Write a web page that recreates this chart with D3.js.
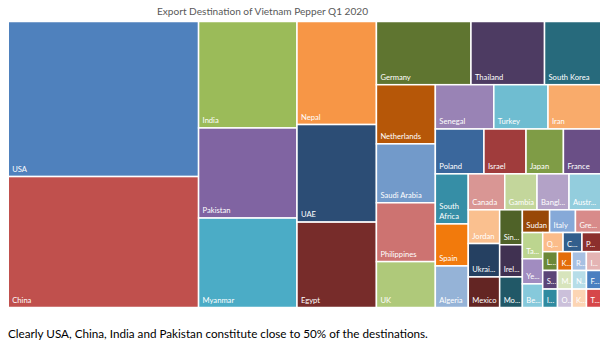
<!DOCTYPE html>
<html>
<head>
<meta charset="utf-8">
<script src="https://cdn.jsdelivr.net/npm/d3@7"></script>
<style>
  body { margin: 0; background: #fff; }
  svg { display: block; }
</style>
</head>
<body>
<svg id="chart" width="606" height="350"></svg>
<script>
// Vietnam pepper exports, Q1 2020, by destination (tonnes, approximate)
const countries = [
  "USA", "China", "India", "Pakistan", "Myanmar", "Nepal", "UAE", "Egypt",
  "Germany", "Thailand", "South Korea", "Netherlands", "Saudi Arabia", "Philippines", "UK",
  "Senegal", "Turkey", "Iran", "Poland", "Israel", "Japan", "France",
  "South Africa", "Spain", "Algeria", "Canada", "Gambia", "Bangladesh", "Australia",
  "Jordan", "Ukraine", "Mexico", "Singapore", "Ireland", "Morocco",
  "Sudan", "Italy", "Greece", "Taiwan", "Yemen", "Belgium",
  "Qatar", "Cambodia", "Portugal",
  "Lebanon", "Sri Lanka", "Iraq", "Kuwait", "Romania", "Indonesia",
  "Malaysia", "Oman", "Nigeria", "Finland", "Kenya", "Tunisia"
];
const tonnes = [
  11900, 10050, 4225, 3575, 3550, 3300, 3125, 2735,
  2410, 1875, 1433, 1405, 1400, 1398, 1090,
  1045, 968, 942, 879, 761, 676, 675,
  665, 558, 552, 529, 468, 464, 460,
  427, 423, 387, 320, 294, 280,
  250, 237, 232, 215, 206, 194,
  157, 146, 145,
  112, 111, 110, 110, 109, 109,
  109, 108, 108, 107, 107, 106
];

const chartTitle = "Export Destination of Vietnam Pepper Q1 2020";
const footnote = "Clearly USA, China, India and Pakistan constitute close to 50% of the destinations.";

// Fill colour for each destination, in the same order as the names above
const palette = [
  "#4f81bd", "#c0504d", "#9bbb59", "#8064a2", "#4bacc6", "#f79646", "#2c4d75", "#772c2a",
  "#5f7530", "#4d3b62", "#276a7c", "#b65708", "#729aca", "#cd7371", "#afc97a",
  "#9983b5", "#6fbdd1", "#f9ab6b", "#3a679c", "#a03c3c", "#7f9c46", "#6a4f86",
  "#368ea6", "#f27a0c", "#95b3d7", "#d99694", "#c3d69b", "#b3a2c7", "#93cddd",
  "#fac08f", "#254061", "#632523", "#4f6228", "#403151", "#215867",
  "#984807", "#86a9d8", "#d88b8a", "#bcd58f", "#a18cc0", "#86c9db",
  "#fbbc8a", "#325e8c", "#8c2f2d",
  "#6b8838", "#5b4577", "#2f8aa0", "#e36c09", "#a7c0e2", "#e4b4b4",
  "#d7e4bc", "#cbc0da", "#b6dde8", "#4a7fc0", "#fcd5b4", "#d6474a"
];

const W = 606, H = 350;
const box = { x: 8.25, y: 21.5, w: 592.5, h: 286 };
const labelFont = "Lato, 'Open Sans', sans-serif";
const labelSize = 7.6;

// Squarified tiling that also accepts target ratios below 1
// (favours cells a little longer along each strip than the strip is thick).
function squarifyTile(ratio) {
  return function(parent, x0, y0, x1, y1) {
    const nodes = parent.children, n = nodes.length;
    let i0 = 0, i1 = 0, value = parent.value;
    while (i0 < n) {
      const dx = x1 - x0, dy = y1 - y0;
      let sumValue, minValue, maxValue, nodeValue;
      do sumValue = nodes[i1++].value; while (!sumValue && i1 < n);
      minValue = maxValue = sumValue;
      const alpha = Math.max(dy / dx, dx / dy) / (value * ratio);
      let beta = sumValue * sumValue * alpha;
      let minRatio = Math.max(maxValue / beta, beta / minValue);
      for (; i1 < n; ++i1) {
        sumValue += nodeValue = nodes[i1].value;
        if (nodeValue < minValue) minValue = nodeValue;
        if (nodeValue > maxValue) maxValue = nodeValue;
        beta = sumValue * sumValue * alpha;
        const newRatio = Math.max(maxValue / beta, beta / minValue);
        if (newRatio > minRatio) { sumValue -= nodeValue; break; }
        minRatio = newRatio;
      }
      const row = { children: nodes.slice(i0, i1), value: sumValue };
      if (dx < dy) d3.treemapDice(row, x0, y0, x1, value ? (y0 += dy * sumValue / value) : y1);
      else d3.treemapSlice(row, x0, y0, value ? (x0 += dx * sumValue / value) : x1, y1);
      value -= sumValue;
      i0 = i1;
    }
  };
}

const svg = d3.select("#chart");
svg.append("rect").attr("width", W).attr("height", H).attr("fill", "#fff");

svg.append("text")
  .attr("x", 262.5).attr("y", 14.5)
  .attr("text-anchor", "middle")
  .attr("font-family", labelFont)
  .attr("font-size", 10.1)
  .attr("fill", "#595959")
  .text(chartTitle);

const root = d3.hierarchy({
    children: countries.map((name, i) => ({ name, value: tonnes[i], i }))
  })
  .sum(d => d.value || 0)
  .sort((a, b) => b.value - a.value);

d3.treemap()
  .tile(squarifyTile(0.915))
  .size([box.w, box.h])(root);

const g = svg.append("g").attr("transform", `translate(${box.x},${box.y})`);

const cells = g.selectAll("g.cell")
  .data(root.leaves())
  .join("g")
  .attr("class", "cell");

cells.append("rect")
  .attr("x", d => d.x0)
  .attr("y", d => d.y0)
  .attr("width", d => d.x1 - d.x0)
  .attr("height", d => d.y1 - d.y0)
  .attr("fill", d => palette[d.data.i])
  .attr("stroke", "#fff")
  .attr("stroke-width", 1.5);

// Off-screen text node used to measure label widths
const probe = svg.append("text")
  .attr("font-family", labelFont)
  .attr("font-size", labelSize)
  .attr("visibility", "hidden");
function textWidth(s) {
  probe.text(s);
  return probe.node().getComputedTextLength();
}

// Fit a name into a cell: one line, wrapped words, or shortened with "..."
function fitLines(name, avail) {
  if (textWidth(name) <= avail) return [name];
  const words = name.split(" ");
  if (words.length > 1 && words.every(w => textWidth(w) <= avail)) return words;
  let n = name.length - 1;
  while (n > 1 && textWidth(name.slice(0, n) + "...") > avail) n--;
  return [name.slice(0, n).trimEnd() + "..."];
}

const lineGap = 10;
cells.each(function(d) {
  const w = d.x1 - d.x0;
  const lines = fitLines(d.data.name, w - 6);
  const t = d3.select(this).append("text")
    .attr("font-family", labelFont)
    .attr("font-size", labelSize)
    .attr("fill", "#fff");
  lines.forEach((line, k) => {
    t.append("tspan")
      .attr("x", d.x0 + 4)
      .attr("y", d.y1 - 5 - (lines.length - 1 - k) * lineGap)
      .text(line);
  });
});

probe.remove();

svg.append("text")
  .attr("x", 8).attr("y", 338)
  .attr("font-family", labelFont)
  .attr("font-size", 11.7)
  .attr("fill", "#000")
  .text(footnote);
</script>
</body>
</html>
